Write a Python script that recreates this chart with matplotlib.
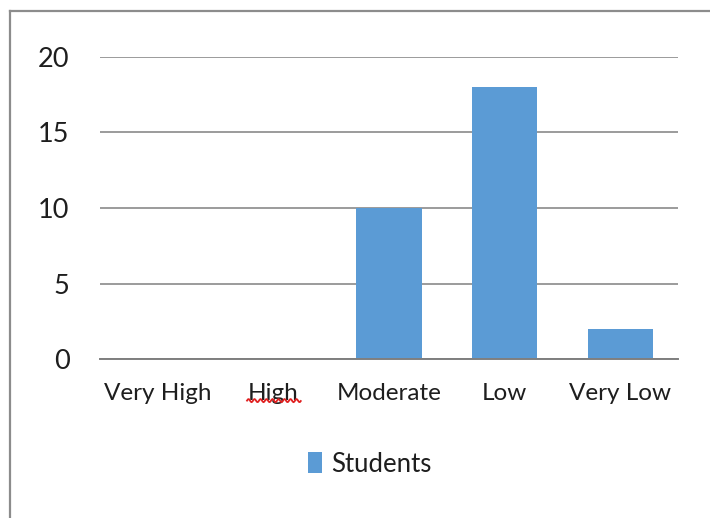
import numpy as np
import matplotlib
matplotlib.use("Agg")
import matplotlib.pyplot as plt
from matplotlib.lines import Line2D
from matplotlib.patches import Patch

categories = ["Very High", "High", "Moderate", "Low", "Very Low"]
students = [0, 0, 10, 18, 2]
y_ticks = [0, 5, 10, 15, 20]

BAR_COLOR = "#5B9BD5"
GRID_COLOR = "#8a8a8a"
TEXT_COLOR = "#1e1e1e"

plt.rcParams["font.family"] = ["Lato", "DejaVu Sans"]

W, H = 710, 518
fig = plt.figure(figsize=(W / 100, H / 100), dpi=100)
fig.patch.set_facecolor("white")

# plot area in pixel terms
left, right, top, bottom = 100, 678, 57, 359
ax = fig.add_axes([left / W, 1 - bottom / H, (right - left) / W, (bottom - top) / H])

x = np.arange(len(categories))
ax.bar(x, students, width=0.565, color=BAR_COLOR, zorder=3, label="Students")

ax.set_xlim(-0.5, len(categories) - 0.5)
ax.set_ylim(0, 20)
ax.set_yticks(y_ticks)
ax.set_yticklabels([str(v) for v in y_ticks])
ax.set_xticks(x)
ax.set_xticklabels(categories)

ax.yaxis.grid(True, color=GRID_COLOR, linewidth=1.2, zorder=0)
ax.set_axisbelow(True)
for side in ["top", "right", "left"]:
    ax.spines[side].set_visible(False)
ax.spines["bottom"].set_color("#7f7f7f")
ax.spines["bottom"].set_linewidth(1.4)
ax.spines["bottom"].set_zorder(4)

ax.tick_params(axis="y", length=0, pad=22, labelsize=19.5, labelcolor=TEXT_COLOR)
ax.tick_params(axis="x", length=0, pad=17, labelsize=17.5, labelcolor=TEXT_COLOR)

leg = fig.legend(handles=[Patch(facecolor=BAR_COLOR, edgecolor="none")],
                 labels=["Students"], loc="center",
                 bbox_to_anchor=(370 / W, 1 - 464 / H), frameon=False,
                 fontsize=18.5, handlelength=0.55, handleheight=0.9,
                 handletextpad=0.35, labelcolor=TEXT_COLOR)

# outer chart frame (only the left and top edges fall inside the image)
fig.add_artist(Line2D([10 / W, 10 / W], [1 - 11 / H, -0.1], transform=fig.transFigure,
                      color="#8c8c8c", linewidth=1.6))
fig.add_artist(Line2D([10 / W, 1.1], [1 - 11 / H, 1 - 11 / H], transform=fig.transFigure,
                      color="#8c8c8c", linewidth=1.6))

# spell-check style wavy underline beneath the "High" label
fig.canvas.draw()
renderer = fig.canvas.get_renderer()
lbl = [t for t in ax.get_xticklabels() if t.get_text() == "High"][0]
bb = lbl.get_window_extent(renderer)
xs = np.linspace(bb.x0 - 1, bb.x1 + 2, 60)
ys = bb.y0 + 3 + 1.6 * np.sin((xs - xs[0]) / 3.0 * np.pi)
fig.add_artist(Line2D(xs / W, ys / H, transform=fig.transFigure,
                      color="#e02020", linewidth=1.3))

fig.savefig("out.png", dpi=100, facecolor="white")
